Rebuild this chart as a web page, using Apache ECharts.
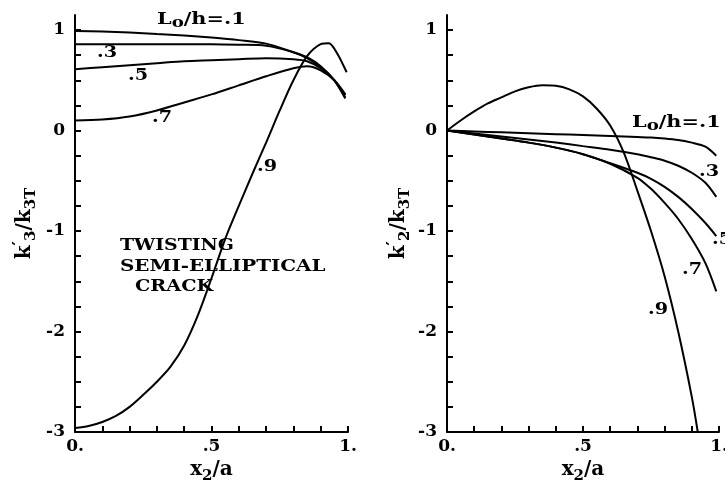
<!DOCTYPE html>
<html>
<head>
<meta charset="utf-8">
<script src="https://cdn.jsdelivr.net/npm/echarts@6/dist/echarts.min.js"></script>
<style>
  html, body { margin: 0; background: #fff; }
  #chart { width: 725px; height: 481px; }
</style>
</head>
<body>
<div id="chart"></div>
<script>
// Left panel: k'3/k3T vs x2/a, right panel: k'2/k3T vs x2/a, one curve per Lo/h.

// x positions shared by the flatter curves
const leftX = [0, 0.1, 0.2, 0.3, 0.4, 0.5, 0.6, 0.7, 0.8, 0.85, 0.9, 0.95, 0.99];
const leftK3_01 = [0.99, 0.985, 0.975, 0.96, 0.945, 0.925, 0.9, 0.865, 0.78, 0.73, 0.64, 0.5, 0.32];
const leftK3_03 = [0.86, 0.86, 0.86, 0.86, 0.86, 0.86, 0.855, 0.845, 0.78, 0.72, 0.63, 0.5, 0.33];
const leftK3_05 = [0.61, 0.63, 0.65, 0.67, 0.69, 0.70, 0.71, 0.72, 0.71, 0.69, 0.62, 0.5, 0.35];
const leftK3_07 = [0.10, 0.11, 0.14, 0.20, 0.28, 0.36, 0.45, 0.54, 0.62, 0.64, 0.6, 0.5, 0.36];

const leftX09 = [0, 0.05, 0.1, 0.15, 0.2, 0.25, 0.3, 0.35, 0.4, 0.45, 0.5, 0.55, 0.6, 0.65, 0.7, 0.75, 0.8, 0.85, 0.9, 0.93, 0.96, 0.995];
const leftK3_09 = [-2.96, -2.94, -2.9, -2.84, -2.75, -2.63, -2.5, -2.35, -2.14, -1.84, -1.47, -1.08, -0.75, -0.43, -0.12, 0.2, 0.5, 0.74, 0.86, 0.87, 0.77, 0.58];

const rightX = [0, 0.1, 0.2, 0.3, 0.4, 0.5, 0.6, 0.7, 0.75, 0.8, 0.85, 0.9, 0.95, 0.99];
const rightK2_01 = [0, -0.009, -0.018, -0.027, -0.036, -0.045, -0.055, -0.065, -0.07, -0.08, -0.095, -0.12, -0.16, -0.25];
const rightK2_03 = [0, -0.03, -0.06, -0.09, -0.12, -0.155, -0.19, -0.235, -0.265, -0.3, -0.35, -0.42, -0.52, -0.66];
const rightK2_05 = [0, -0.04, -0.08, -0.12, -0.17, -0.235, -0.325, -0.42, -0.48, -0.56, -0.66, -0.78, -0.92, -1.05];
const rightK2_07 = [0, -0.04, -0.08, -0.12, -0.17, -0.235, -0.33, -0.47, -0.58, -0.72, -0.88, -1.08, -1.32, -1.6];

const rightX09 = [0, 0.05, 0.1, 0.15, 0.2, 0.25, 0.3, 0.35, 0.4, 0.45, 0.5, 0.55, 0.6, 0.65, 0.7, 0.75, 0.8, 0.85, 0.9, 0.922];
const rightK2_09 = [0, 0.1, 0.19, 0.27, 0.33, 0.39, 0.43, 0.45, 0.445, 0.41, 0.34, 0.22, 0.05, -0.22, -0.6, -1.0, -1.45, -2.0, -2.65, -3.0];

// ticks and tick labels
const yTickValues = [-3, -2.75, -2.5, -2.25, -2, -1.75, -1.5, -1.25, -1, -0.75, -0.5, -0.25, 0, 0.25, 0.5, 0.75, 1];
const yLabelValues = [-3, -2, -1, 0, 1];
const yLabels = ['-3', '-2', '-1', '0', '1'];
const xLabelValues = [0, 0.5, 1];
const xLabels = ['0.', '.5', '1.'];

const FONT = 'DejaVu Serif';
const INK = '#000';

function pairs(xs, ys) { return xs.map((x, i) => [x, ys[i]]); }

function pick(values, labels, v) {
  for (let i = 0; i < values.length; i++) if (Math.abs(values[i] - v) < 1e-6) return labels[i];
  return '';
}

const nameRich = {
  b: { fontFamily: FONT, fontWeight: 'bold', fontSize: 20, color: INK, lineHeight: 28, verticalAlign: 'middle' },
  s: { fontFamily: FONT, fontWeight: 'bold', fontSize: 15, color: INK, lineHeight: 28, verticalAlign: 'bottom' },
  p: { fontFamily: FONT, fontWeight: 'bold', fontSize: 17, color: INK, lineHeight: 28, verticalAlign: 'top' },
};

function xAxis(gridIndex) {
  return {
    type: 'value', gridIndex, min: 0, max: 1, interval: 0.1,
    axisLine: { show: true, onZero: false, lineStyle: { color: INK, width: 2 } },
    axisTick: { show: true, inside: true, length: 6, lineStyle: { color: INK, width: 2 } },
    splitLine: { show: false },
    axisLabel: {
      customValues: xLabelValues,
      formatter: (v) => pick(xLabelValues, xLabels, v),
      color: INK, fontFamily: FONT, fontWeight: 'bold', fontSize: 17, margin: 6,
    },
    name: '{b|x}{s|2}{b|/a}',
    nameLocation: 'middle', nameGap: 20,
    nameTextStyle: { rich: nameRich },
  };
}

function yAxis(gridIndex, sub, gap) {
  return {
    type: 'value', gridIndex, min: -3, max: 1.15,
    axisLine: { show: true, onZero: false, lineStyle: { color: INK, width: 2 } },
    axisTick: { show: true, inside: true, length: 6, customValues: yTickValues, lineStyle: { color: INK, width: 2 } },
    splitLine: { show: false },
    axisLabel: {
      customValues: yLabelValues,
      formatter: (v) => pick(yLabelValues, yLabels, v),
      color: INK, fontFamily: FONT, fontWeight: 'bold', fontSize: 17, margin: 10,
    },
    name: '{b|k}{p|′}{s|' + sub + '}{b|/k}{s|3T}',
    nameLocation: 'middle', nameRotate: 90, nameGap: gap,
    nameTextStyle: { rich: nameRich },
  };
}

function curve(axis, xs, ys) {
  return {
    type: 'line', xAxisIndex: axis, yAxisIndex: axis,
    data: pairs(xs, ys), showSymbol: false, smooth: 0.3,
    lineStyle: { color: INK, width: 2 }, silent: true,
  };
}

const labRich = {
  b: { fontFamily: FONT, fontWeight: 'bold', fontSize: 16, fill: INK, lineHeight: 20, verticalAlign: 'middle' },
  s: { fontFamily: FONT, fontWeight: 'bold', fontSize: 14, fill: INK, lineHeight: 20, verticalAlign: 'bottom' },
};

function label(x, y, text, sx) {
  return {
    type: 'text', x, y, scaleX: sx || 1.2, silent: true,
    style: { text, rich: labRich, textVerticalAlign: 'middle', textAlign: 'left',
             fontFamily: FONT, fontWeight: 'bold', fontSize: 16, fill: INK },
  };
}

const chart = echarts.init(document.getElementById('chart'));
chart.setOption({
  animation: false,
  backgroundColor: '#fff',
  grid: [
    { left: 75, top: 15, width: 273, height: 417, outerBoundsMode: 'none', containLabel: false },
    { left: 447, top: 15, width: 272, height: 417, outerBoundsMode: 'none', containLabel: false },
  ],
  xAxis: [xAxis(0), xAxis(1)],
  yAxis: [yAxis(0, '3', 36), yAxis(1, '2', 34)],
  series: [
    curve(0, leftX, leftK3_01),
    curve(0, leftX, leftK3_03),
    curve(0, leftX, leftK3_05),
    curve(0, leftX, leftK3_07),
    curve(0, leftX09, leftK3_09),
    curve(1, rightX, rightK2_01),
    curve(1, rightX, rightK2_03),
    curve(1, rightX, rightK2_05),
    curve(1, rightX, rightK2_07),
    curve(1, rightX09, rightK2_09),
  ],
  graphic: [
    label(157, 20, '{b|L}{s|o}{b|/h=.1}', 1.3),
    label(97, 53, '{b|.3}'),
    label(128, 76, '{b|.5}'),
    label(152, 118, '{b|.7}'),
    label(257, 167, '{b|.9}'),
    label(120, 246, '{b|TWISTING}', 1.18),
    label(120, 267, '{b|SEMI-ELLIPTICAL}', 1.24),
    label(135, 287, '{b|CRACK}', 1.2),
    label(632, 123, '{b|L}{s|o}{b|/h=.1}', 1.3),
    label(699, 172, '{b|.3}'),
    label(712, 240, '{b|.5}'),
    label(682, 270, '{b|.7}'),
    label(648, 310, '{b|.9}'),
  ],
});
</script>
</body>
</html>
